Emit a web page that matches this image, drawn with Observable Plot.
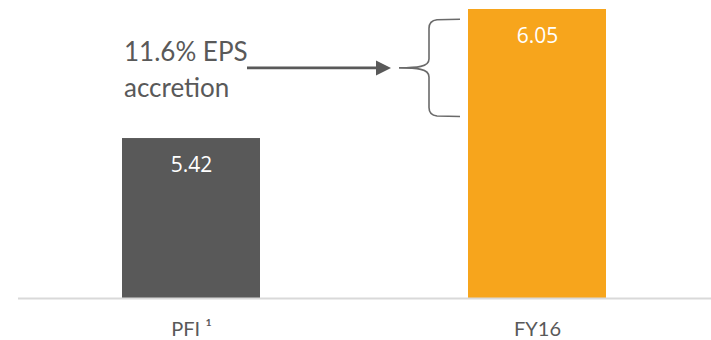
<!DOCTYPE html>
<html>
<head>
<meta charset="utf-8">
<script src="https://cdn.jsdelivr.net/npm/d3@7"></script>
<script src="https://cdn.jsdelivr.net/npm/@observablehq/plot@0.6"></script>
<style>
  html, body { margin: 0; padding: 0; background: #ffffff; }
  #chart svg { display: block; }
</style>
</head>
<body>
<div id="chart"></div>
<script>
// ---- data ----
const categories = ["PFI", "FY16"];
const tickLabels = ["PFI \u00B9", "FY16"];
const eps = [5.42, 6.05];
const barColors = ["#595959", "#F7A51C"];
const annotationWord = "EPS";
const annotationLine2 = "accretion";

const data = categories.map((c, i) => ({category: c, value: eps[i], color: barColors[i], label: tickLabels[i]}));
const accretionPct = ((eps[1] / eps[0] - 1) * 100).toFixed(1);

const yMin = 4.639;

const plot = Plot.plot({
  width: 711,
  height: 340,
  marginLeft: 18,
  marginRight: 0,
  marginTop: 9,
  marginBottom: 42,
  style: {background: "#ffffff"},
  x: {domain: categories, paddingInner: 0.6, paddingOuter: 0.3, axis: null},
  y: {domain: [yMin, eps[1]], axis: null},
  marks: [
    Plot.barY(data, {x: "category", y1: yMin, y2: "value", fill: "color"}),
    Plot.ruleY([yMin], {stroke: "#d9d9d9", strokeWidth: 2}),
    Plot.text(data, {
      x: "category", y: "value", text: d => d.value.toFixed(2),
      fill: "#ffffff", fontSize: 21, fontFamily: "Open Sans",
      lineAnchor: "middle", dy: 27
    }),
    Plot.text(data, {
      x: "category", frameAnchor: "bottom", text: "label",
      fill: "#595959", fontSize: 20, fontFamily: "Lato",
      lineAnchor: "middle", dy: 31
    })
  ]
});

document.getElementById("chart").appendChild(plot);

// ---- annotation (positioned from the plot's scales) ----
const xs = plot.scale("x");
const ys = plot.scale("y");
const bw = xs.bandwidth;
const xPFI = xs.apply("PFI");
const xFY = xs.apply("FY16");
const braceTop = ys.apply(6.0);
const braceBot = ys.apply(5.525);
const mid = (braceTop + braceBot) / 2;
const svg = d3.select(plot);
const g = svg.append("g");

const txt = g.append("text")
  .attr("text-anchor", "start")
  .attr("fill", "#595959")
  .attr("font-family", "Lato")
  .attr("font-size", 26);
txt.append("tspan").attr("x", xPFI + 2).attr("y", mid - 6.5).text(accretionPct + "% " + annotationWord);
txt.append("tspan").attr("x", xPFI + 2).attr("y", mid + 29).text(annotationLine2);

const arrowStart = xPFI + bw - 13;
const arrowTip = xFY - 77;
g.append("line")
  .attr("x1", arrowStart).attr("x2", arrowTip - 14)
  .attr("y1", mid).attr("y2", mid)
  .attr("stroke", "#595959").attr("stroke-width", 2.6);
g.append("path")
  .attr("d", `M${arrowTip - 15},${mid - 7.5} L${arrowTip},${mid} L${arrowTip - 15},${mid + 7.5} Z`)
  .attr("fill", "#595959");

const bR = xFY - 8, bV = xFY - 39, bT = xFY - 69;
g.append("path")
  .attr("d", `M${bR},${braceTop} L${bV + 8},${braceTop + 0.5} Q${bV},${braceTop + 1.5} ${bV},${braceTop + 9}
    L${bV},${mid - 9} C${bV},${mid - 1} ${bV - 12},${mid} ${bT},${mid}
    C${bV - 12},${mid} ${bV},${mid + 1} ${bV},${mid + 9}
    L${bV},${braceBot - 9} Q${bV},${braceBot - 1.5} ${bV + 8},${braceBot - 0.5} L${bR},${braceBot}`)
  .attr("fill", "none").attr("stroke", "#6a6a6a").attr("stroke-width", 1.6);
</script>
</body>
</html>
